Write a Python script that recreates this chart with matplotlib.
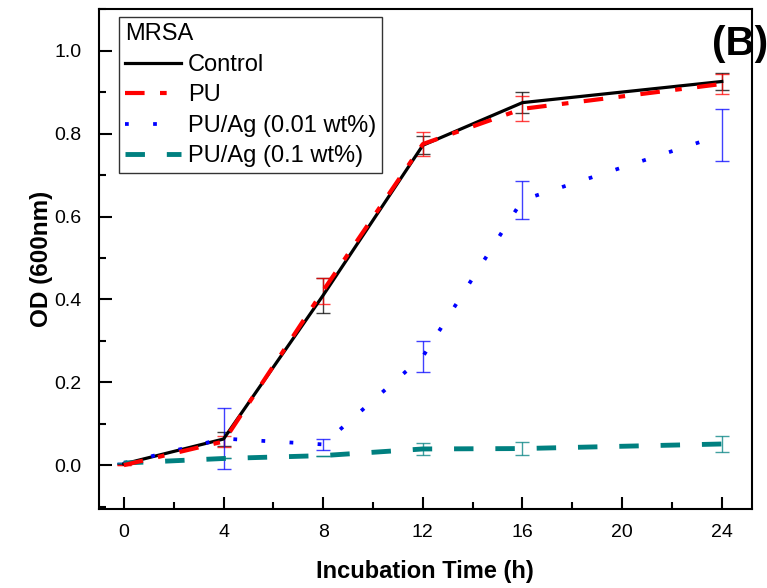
import matplotlib
matplotlib.use("Agg")
import matplotlib.pyplot as plt
from matplotlib.ticker import MultipleLocator

plt.rcParams['font.family'] = ['Liberation Sans', 'DejaVu Sans']

time_h = [0, 4, 8, 12, 16, 24]
control = [0.003, 0.063, 0.41, 0.772, 0.875, 0.926]
control_err = [0.0, 0.017, 0.042, 0.022, 0.025, 0.02]
pu = [0.0, 0.057, 0.421, 0.775, 0.86, 0.92]
pu_err = [0.0, 0.014, 0.031, 0.03, 0.03, 0.025]
puag001 = [0.005, 0.064, 0.05, 0.262, 0.64, 0.797]
puag001_err = [0.0, 0.073, 0.013, 0.037, 0.045, 0.062]
puag01 = [0.005, 0.016, 0.023, 0.039, 0.04, 0.051]
puag01_err = [0.0, 0.0, 0.0, 0.015, 0.015, 0.019]

fig = plt.figure(figsize=(7.67, 5.88), dpi=100)
ax = fig.add_axes([0.129, 0.135, 0.851, 0.849])

series = [
    ("Control", control, control_err, "black", "-", 2.3),
    ("PU", pu, pu_err, "#FF0000", (0, (4.7, 3.7, 1.6, 3.7)), 3.0),
    ("PU/Ag (0.01 wt%)", puag001, puag001_err, "#0000FF", (0, (1, 6.5)), 2.7),
    ("PU/Ag (0.1 wt%)", puag01, puag01_err, "#008080", (0, (4, 4.5)), 3.5),
]

for label, y, e, c, ls, lw in series:
    ax.errorbar(time_h, y, yerr=e, fmt='none', ecolor=c, elinewidth=1.0,
                capsize=5, capthick=1.0, alpha=0.75, zorder=2)

handles = []
for i, (label, y, e, c, ls, lw) in enumerate(series):
    ln, = ax.plot(time_h, y, color=c, linestyle=ls, linewidth=lw, label=label,
                  zorder=3 + (1 if label == "PU" else 0))
    handles.append(ln)

ax.set_xlim(-1, 25.2)
ax.set_ylim(-0.105, 1.1)
ax.xaxis.set_major_locator(MultipleLocator(4))
ax.xaxis.set_minor_locator(MultipleLocator(2))
ax.yaxis.set_major_locator(MultipleLocator(0.2))
ax.yaxis.set_minor_locator(MultipleLocator(0.1))
ax.yaxis.set_major_formatter(matplotlib.ticker.FormatStrFormatter('%.1f'))
ax.tick_params(axis='y', which='major', direction='in', length=9, width=1.5, labelsize=14, pad=12.5)
ax.tick_params(axis='x', which='major', direction='in', length=9, width=1.5, labelsize=14, pad=11)
ax.tick_params(which='minor', direction='in', length=5, width=1.5)
ax.tick_params(top=False, right=False, which='both')
for s in ax.spines.values():
    s.set_linewidth(1.5)

ax.set_xlabel("Incubation Time (h)", fontsize=17, fontweight='bold', labelpad=14)
ax.set_ylabel("OD (600nm)", fontsize=17.5, fontweight='bold', labelpad=1)

leg = ax.legend(handles=handles, title="MRSA", loc='upper left',
                bbox_to_anchor=(0.031, 0.984), fontsize=17, title_fontsize=17,
                frameon=True, fancybox=False, edgecolor='black', handlelength=2.35,
                handletextpad=0.3, borderpad=0.25, labelspacing=0.36,
                borderaxespad=0.0, alignment='left')
leg.get_frame().set_linewidth(1.0)

fig.text(1.002, 0.958, "(B)", fontsize=29, fontweight='bold', ha='right', va='top')

fig.savefig("out.png", dpi=100)
